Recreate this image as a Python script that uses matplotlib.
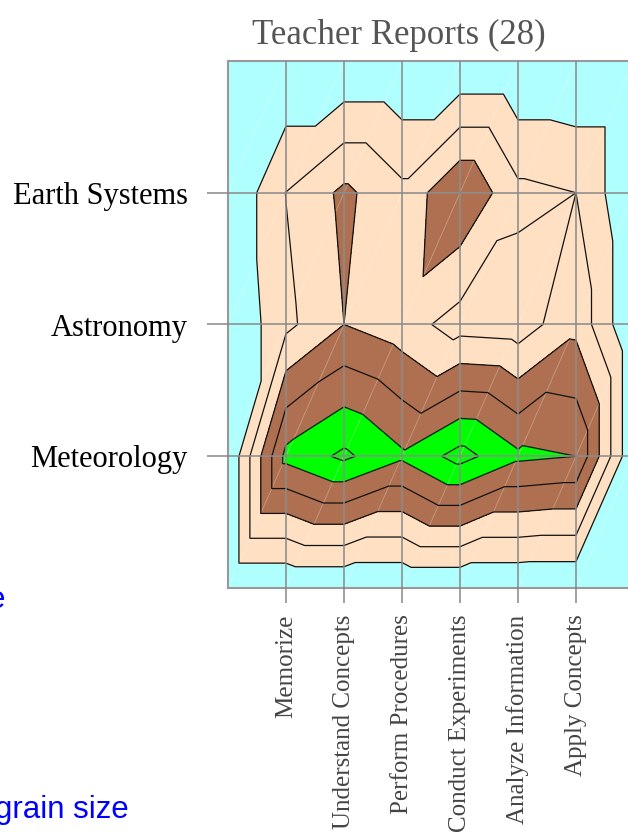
import numpy as np
import matplotlib.pyplot as plt
import matplotlib.tri as mtri

demands = ['Memorize', 'Understand Concepts', 'Perform Procedures',
           'Conduct Experiments', 'Analyze Information', 'Apply Concepts']
topics = ['Meteorology', 'Astronomy', 'Earth Systems']

# percent of instruction, one row per topic
meteorology = [5.3, 6.2, 5.17, 6.38, 5.2, 5.0]
astronomy = [1.75, 3.0, 2.44, 1.58, 1.45, 2.73]
earth_systems = [2.02, 3.22, 2.24, 3.98, 2.24, 2.0]

line_levels = [1, 2, 3, 4, 5, 6]
fill_levels = [-0.5, 1, 3, 5, 7.5]
fill_colors = ['#b0ffff', '#ffe0c2', '#ae7050', '#00ff00']

# zero border all round the topic x demand table
z = np.pad(np.array([meteorology, astronomy, earth_systems]), 1)
ny, nx = z.shape
xx, yy = np.meshgrid(np.arange(nx), np.arange(ny))

# every cell split along its lower-left -> upper-right diagonal
tris = []
for j in range(ny - 1):
    for i in range(nx - 1):
        a = j * nx + i
        tris.append([a, a + 1, a + nx + 1])
        tris.append([a, a + nx + 1, a + nx])
tri = mtri.Triangulation(xx.ravel(), yy.ravel(), tris)

fig = plt.figure(figsize=(6.28, 8.38), dpi=100)
ax = fig.add_axes([228 / 628, 250 / 838, 406 / 628, 527 / 838])
ax.set_facecolor(fill_colors[0])

ax.tricontourf(tri, z.ravel(), levels=fill_levels, colors=fill_colors)
ax.triplot(tri, color='white', lw=0.6, alpha=0.3)
ax.tricontour(tri, z.ravel(), levels=line_levels, colors='#111111', linewidths=0.9)

ax.set_xlim(0, nx - 1)
ax.set_ylim(0, ny - 1)
ax.set_xticks(range(1, len(demands) + 1))
ax.set_xticklabels(demands, rotation=90, va='top', ha='center',
                   family='Liberation Serif', color='#444444', fontsize=18)
ax.set_yticks(range(1, len(topics) + 1))
ax.set_yticklabels(topics, family='Liberation Serif', color='black', fontsize=22)
ax.tick_params(axis='x', length=11, width=1.1, color='#888888', pad=8)
ax.tick_params(axis='y', length=15, width=1.1, color='#888888', pad=14)
ax.grid(True, color='#888888', lw=1.1)
ax.set_axisbelow(False)
for s in ax.spines.values():
    s.set_color('#999999')
    s.set_linewidth(1.5)

fig.text(399 / 628, 1 - 44 / 838, 'Teacher Reports (28)', ha='center',
         va='baseline', fontsize=25, color='#555555', family='Liberation Serif')

# bits of neighbouring text cut off at the left edge
fig.text(5 / 628, 1 - 608 / 838, 'e', ha='right', va='baseline',
         fontsize=22.5, color='blue', family='Liberation Sans')
fig.text(129 / 628, 1 - 818 / 838, 'grain size', ha='right', va='baseline',
         fontsize=22.5, color='blue', family='Liberation Sans')

fig.savefig('out.png', dpi=100)
